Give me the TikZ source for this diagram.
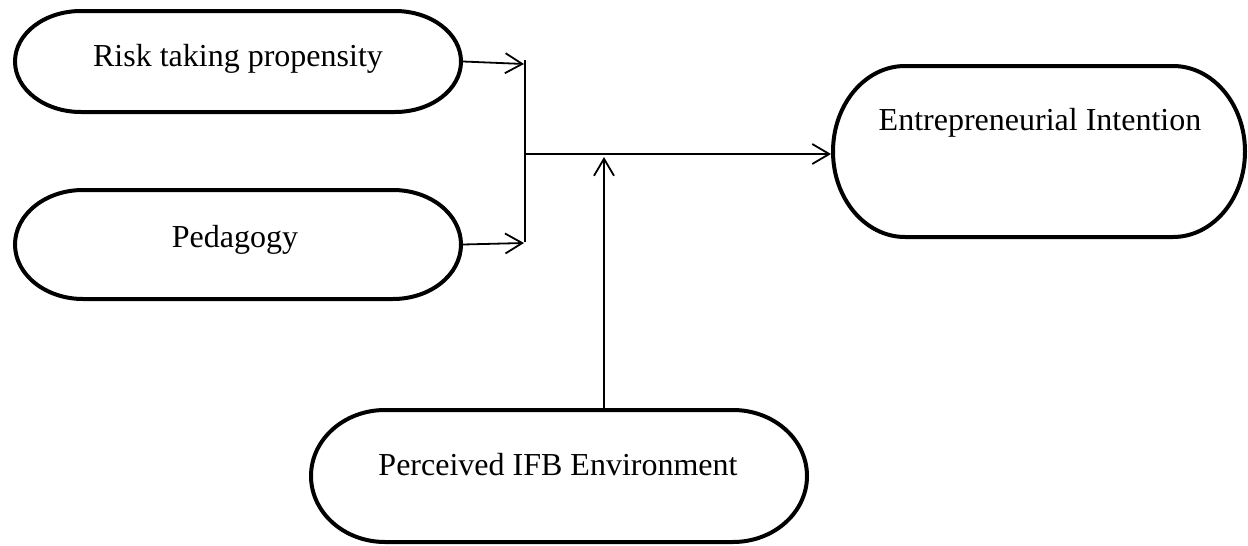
\documentclass[tikz,border=0pt]{standalone}
\usepackage{fontspec}
\setmainfont{Liberation Serif}
\usetikzlibrary{arrows.meta,calc}
\tikzset{
  box/.style={draw=none, inner sep=0pt, outer sep=2pt},
  outline/.style={draw, line width=4pt, fill=white},
  conn/.style={line width=1.8pt},
  arr/.style={conn, -{Straight Barb[length=17pt,width=20pt]}},
  lbl/.style={font=\fontsize{32}{38}\selectfont, inner sep=0pt}
}
% #1 node name, #2 half width, #3 half height, #4 horizontal radius of the ends
\newcommand\stadiumoutline[4]{%
  \draw[outline, shift={(#1.center)}]
    (-#2pt+#4pt,#3pt) -- (#2pt-#4pt,#3pt)
    arc[start angle=90, end angle=-90, x radius=#4pt, y radius=#3pt]
    -- (-#2pt+#4pt,-#3pt)
    arc[start angle=270, end angle=90, x radius=#4pt, y radius=#3pt]
    -- cycle;}
\begin{document}
\begin{tikzpicture}[x=1pt,y=-1pt]
\useasboundingbox (0,0) rectangle (1248,546);
\node[box, minimum width=446pt, minimum height=101pt] (risk) at (238,61.5) {};
\node[box, minimum width=446pt, minimum height=109pt] (ped) at (238,244.5) {};
\node[box, minimum width=412pt, minimum height=171pt] (ent) at (1039,151.5) {};
\node[box, minimum width=496pt, minimum height=132pt] (per) at (559,476) {};
\stadiumoutline{risk}{223}{50.5}{66}
\stadiumoutline{ped}{223}{54.5}{68}
\stadiumoutline{ent}{206}{85.5}{72}
\stadiumoutline{per}{248}{66}{74}
\node[lbl] (risktext) at ($(risk.center)+(0pt,3pt)$) {Risk taking propensity};
\node[lbl] (pedtext) at ($(ped.center)+(-3pt,5pt)$) {Pedagogy};
\node[lbl] (enttext) at ($(ent.center)+(1pt,29pt)$) {Entrepreneurial Intention};
\node[lbl] (pertext) at ($(per.center)+(-1pt,11pt)$) {Perceived IFB Environment};
\coordinate (jt) at (525,60);
\coordinate (jb) at (525,242);
\coordinate (jm) at (525,154);
\coordinate (rin) at (524,64);
\coordinate (pin) at (524,243);
\coordinate (mp) at (604,157);
\draw[conn] (jt) -- (jb);
\draw[arr] (risk.east) -- (rin);
\draw[arr] (ped.east) -- (pin);
\draw[arr] (jm) -- (ent.west |- jm);
\draw[arr] (per.north -| mp) -- (mp);
\end{tikzpicture}
\end{document}
